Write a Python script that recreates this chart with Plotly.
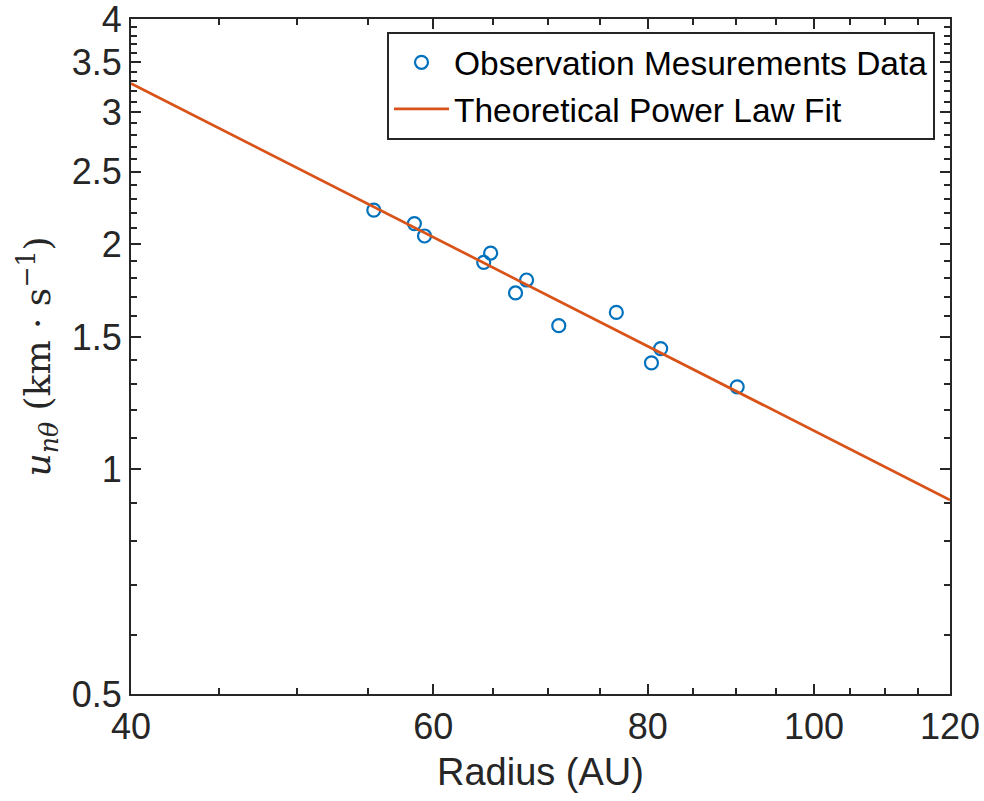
import numpy as np
import plotly.graph_objects as go

# Observation data (radius in AU, velocity in km/s)
obs_radius = [55.4, 58.5, 59.3, 64.2, 64.8, 67.0, 68.0, 71.0, 76.7, 80.4, 81.4, 90.2]
obs_velocity = [2.22, 2.13, 2.05, 1.89, 1.945, 1.72, 1.79, 1.555, 1.62, 1.387, 1.449, 1.288]

# Theoretical power-law fit line endpoints
fit_radius = [40, 120]
fit_velocity = [3.28, 0.909]

x_major = [40, 60, 80, 100, 120]
x_minor = [45, 50, 55, 65, 70, 75, 85, 90, 95, 105, 110, 115]
y_major = [0.5, 1, 1.5, 2, 2.5, 3, 3.5, 4]
y_major_text = ["0.5", "1", "1.5", "2", "2.5", "3", "3.5", "4"]
y_minor = [0.6, 0.7, 0.8, 0.9, 1.1, 1.2, 1.3, 1.4, 1.6, 1.7, 1.8, 1.9,
           2.1, 2.2, 2.3, 2.4, 2.6, 2.7, 2.8, 2.9, 3.1, 3.2, 3.3, 3.4,
           3.6, 3.7, 3.8, 3.9]

AX = "#262626"
TOP = 19
BOT = 694

fig = go.Figure()
fig.add_trace(go.Scatter(
    x=obs_radius, y=obs_velocity, mode="markers",
    name="Observation Mesurements Data",
    marker=dict(symbol="circle-open", size=13, color="#0072BD",
                line=dict(width=2.2, color="#0072BD")),
))
fig.add_trace(go.Scatter(
    x=fit_radius, y=fit_velocity, mode="lines",
    name="Theoretical Power Law Fit",
    line=dict(color="#D95319", width=2.7),
))

fig.update_layout(
    width=984, height=801,
    margin=dict(l=131, r=34, t=TOP, b=801 - BOT),
    paper_bgcolor="white", plot_bgcolor="white",
    font=dict(family="Liberation Sans, Arial", color=AX, size=36),
    showlegend=True,
    legend=dict(
        x=(935 - 131) / 819, xanchor="right",
        y=(BOT - 32) / (BOT - TOP), yanchor="top",
        bgcolor="white", bordercolor=AX, borderwidth=2,
        font=dict(size=33.5, color="black"),
        tracegroupgap=0, itemwidth=55,
    ),
    xaxis=dict(
        type="log", range=[np.log10(40), np.log10(120)],
        tickmode="array", tickvals=x_major, ticktext=[str(v) for v in x_major],
        ticks="inside", ticklen=10, tickwidth=2, tickcolor=AX,
        showline=True, linecolor=AX, linewidth=2, mirror="ticks",
        showgrid=False, zeroline=False, automargin=False,
        ticklabeloverflow="allow",
        tickfont=dict(size=36),
        minor=dict(tickmode="array", tickvals=x_minor, ticks="inside",
                   ticklen=6, tickwidth=2, tickcolor=AX, showgrid=False),
        title=dict(text="Radius (AU)", font=dict(size=38), standoff=12),
    ),
    yaxis=dict(
        type="log", range=[np.log10(0.5), np.log10(4)],
        tickmode="array", tickvals=y_major, ticktext=y_major_text,
        ticks="inside", ticklen=10, tickwidth=2, tickcolor=AX,
        showline=True, linecolor=AX, linewidth=2, mirror="ticks",
        showgrid=False, zeroline=False, automargin=False,
        ticklabeloverflow="allow",
        tickfont=dict(size=36),
        minor=dict(tickmode="array", tickvals=y_minor, ticks="inside",
                   ticklen=6, tickwidth=2, tickcolor=AX, showgrid=False),
        title=dict(text="<i>u</i><sub><i>nθ</i></sub> (km · s<sup>−1</sup>)",
                   font=dict(size=36, family="DejaVu Serif, Liberation Serif"),
                   standoff=10),
    ),
)

fig.write_html("out.html")
